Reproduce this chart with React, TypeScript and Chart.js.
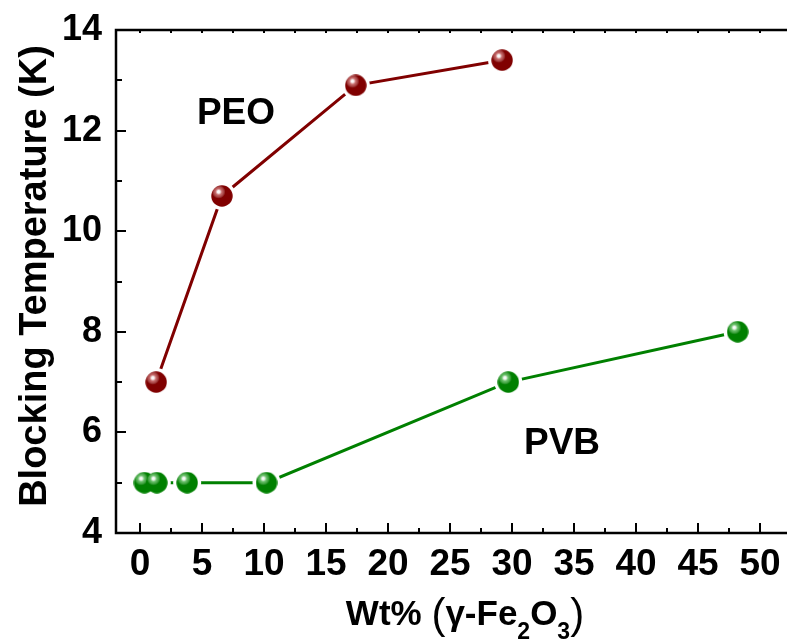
import React, { useEffect, useRef } from "react";
import { Chart, registerables } from "chart.js";

Chart.register(...registerables);

// ---- data ----
const peoX = [1.3, 6.6, 17.4, 29.2];
const peoY = [7.0, 10.7, 12.9, 13.4];
const pvbX = [0.35, 1.35, 3.8, 10.2, 29.7, 48.2];
const pvbY = [5.0, 5.0, 5.0, 5.0, 7.0, 8.0];
const xTickValues = [0, 5, 10, 15, 20, 25, 30, 35, 40, 45, 50];
const xMinorValues = [2.5, 7.5, 12.5, 17.5, 22.5, 27.5, 32.5, 37.5, 42.5, 47.5];
const yTickValues = [4, 6, 8, 10, 12, 14];
const yMinorValues = [5, 7, 9, 11, 13];

const PEO_COLOR = "#800000";
const PVB_COLOR = "#008000";
const FONT = "'Liberation Sans', Arial, Helvetica, sans-serif";

function makeSphere(base: string, light: string, r: number): HTMLCanvasElement {
  const c = document.createElement("canvas");
  c.width = 2 * r;
  c.height = 2 * r;
  const ctx = c.getContext("2d")!;
  ctx.beginPath();
  ctx.arc(r, r, r - 0.3, 0, Math.PI * 2);
  ctx.fillStyle = base;
  ctx.fill();
  const hx = r - 0.3 * r;
  const hy = r - 0.38 * r;
  const g = ctx.createRadialGradient(hx, hy, 0, hx, hy, r * 0.62);
  g.addColorStop(0, "rgba(255,255,255,1)");
  g.addColorStop(0.2, "rgba(255,255,255,0.95)");
  g.addColorStop(0.5, light);
  g.addColorStop(1, "rgba(255,255,255,0)");
  ctx.beginPath();
  ctx.arc(r, r, r - 0.3, 0, Math.PI * 2);
  ctx.fillStyle = g;
  ctx.fill();
  return c;
}

const toPts = (xs: number[], ys: number[]) => xs.map((x, i) => ({ x, y: ys[i] }));

export default function App() {
  const ref = useRef<HTMLCanvasElement>(null);
  useEffect(() => {
    document.body.style.margin = "0";
    const canvas = ref.current!;
    const peoSphere = makeSphere(PEO_COLOR, "rgba(230,150,150,0.65)", 11);
    const pvbSphere = makeSphere(PVB_COLOR, "rgba(150,220,150,0.65)", 11);

    const decor = {
      id: "decor",
      afterDatasetsDraw(chart: any) {
        const ctx = chart.ctx;
        const xs = chart.scales.x;
        const ys = chart.scales.y;
        const { left, top, bottom } = chart.chartArea;
        const right = chart.width;
        ctx.save();
        ctx.strokeStyle = "#000";
        ctx.lineWidth = 2.5;
        ctx.lineCap = "butt";
        ctx.beginPath();
        ctx.moveTo(left, top);
        ctx.lineTo(left, bottom);
        ctx.moveTo(left - 1.25, bottom);
        ctx.lineTo(right, bottom);
        ctx.moveTo(left - 1.25, top);
        ctx.lineTo(right, top);
        ctx.stroke();
        ctx.lineWidth = 2;
        ctx.beginPath();
        for (const v of xTickValues) {
          const px = Math.round(xs.getPixelForValue(v));
          ctx.moveTo(px, bottom);
          ctx.lineTo(px, bottom - 10);
          ctx.moveTo(px, top);
          ctx.lineTo(px, top + 3);
        }
        for (const v of xMinorValues) {
          const px = Math.round(xs.getPixelForValue(v));
          ctx.moveTo(px, bottom);
          ctx.lineTo(px, bottom - 5);
          ctx.moveTo(px, top);
          ctx.lineTo(px, top + 3);
        }
        for (const v of yTickValues) {
          const py = Math.round(ys.getPixelForValue(v));
          ctx.moveTo(left, py);
          ctx.lineTo(left + 10, py);
        }
        for (const v of yMinorValues) {
          const py = Math.round(ys.getPixelForValue(v));
          ctx.moveTo(left, py);
          ctx.lineTo(left + 6, py);
        }
        ctx.stroke();

        ctx.fillStyle = "#000";
        ctx.font = `bold 37px ${FONT}`;
        ctx.textAlign = "center";
        ctx.textBaseline = "alphabetic";
        ctx.fillText("PEO", 236, 124);
        ctx.fillText("PVB", 562, 454);

        ctx.save();
        ctx.translate(46, 276);
        ctx.rotate(-Math.PI / 2);
        ctx.font = `bold 38px ${FONT}`;
        ctx.textAlign = "center";
        ctx.fillText("Blocking Temperature (K)", 0, 0);
        ctx.restore();

        const parts: [string, string, number][] = [
          ["Wt% ", `bold 35px ${FONT}`, 0],
          ["(", `42px ${FONT}`, 3],
          ["\u03B3-Fe", `bold 35px ${FONT}`, 0],
          ["2", `bold 23px ${FONT}`, 14],
          ["O", `bold 35px ${FONT}`, 0],
          ["3", `bold 23px ${FONT}`, 14],
          [")", `42px ${FONT}`, 3],
        ];
        ctx.textAlign = "left";
        let total = 0;
        for (const [t, f] of parts) {
          ctx.font = f;
          total += ctx.measureText(t).width;
        }
        let cx = 465 - total / 2;
        const base = 625;
        for (const [t, f, dy] of parts) {
          ctx.font = f;
          ctx.fillText(t, cx, base + dy);
          cx += ctx.measureText(t).width;
        }
        ctx.restore();
      },
    };

    const chart = new Chart(canvas, {
      type: "line",
      data: {
        datasets: [
          { data: toPts(peoX, peoY), borderColor: PEO_COLOR, borderWidth: 3, pointRadius: 0, order: 3 },
          { data: toPts(pvbX, pvbY), borderColor: PVB_COLOR, borderWidth: 3, pointRadius: 0, order: 3 },
          { data: toPts(peoX, peoY), showLine: false, pointRadius: 14, pointBackgroundColor: "#fff", pointBorderWidth: 0, order: 2 },
          { data: toPts(pvbX, pvbY), showLine: false, pointRadius: 14, pointBackgroundColor: "#fff", pointBorderWidth: 0, order: 2 },
          { data: toPts(peoX, peoY), showLine: false, pointStyle: peoSphere as any, pointRadius: 11, order: 1 },
          { data: toPts(pvbX, pvbY), showLine: false, pointStyle: pvbSphere as any, pointRadius: 11, order: 1 },
        ],
      },
      options: {
        responsive: false,
        animation: false,
        events: [],
        layout: { autoPadding: false, padding: { top: 30, right: 0, left: 0, bottom: 0 } },
        plugins: { legend: { display: false }, tooltip: { enabled: false } },
        scales: {
          x: {
            type: "linear",
            min: -1.94,
            max: 52.18,
            grid: { display: false, drawTicks: false },
            border: { display: false },
            afterBuildTicks: (s: any) => {
              s.ticks = xTickValues.map((v) => ({ value: v }));
            },
            afterFit: (s: any) => {
              s.height = 110;
              s.paddingLeft = 0;
              s.paddingRight = 0;
            },
            ticks: {
              padding: 10,
              maxRotation: 0,
              autoSkip: false,
              color: "#000",
              font: { family: FONT, size: 37, weight: "bold" },
            },
          },
          y: {
            type: "linear",
            min: 4,
            max: 14,
            grid: { display: false, drawTicks: false },
            border: { display: false },
            afterBuildTicks: (s: any) => {
              s.ticks = yTickValues.map((v) => ({ value: v }));
            },
            afterFit: (s: any) => {
              s.width = 116;
              s.paddingTop = 0;
              s.paddingBottom = 0;
            },
            ticks: {
              padding: 14,
              color: "#000",
              font: { family: FONT, size: 36, weight: "bold" },
            },
          },
        },
      },
      plugins: [decor],
    } as any);
    return () => chart.destroy();
  }, []);

  return (
    <div style={{ width: 787, height: 643 }}>
      <canvas ref={ref} width={787} height={643} style={{ display: "block" }} />
    </div>
  );
}
